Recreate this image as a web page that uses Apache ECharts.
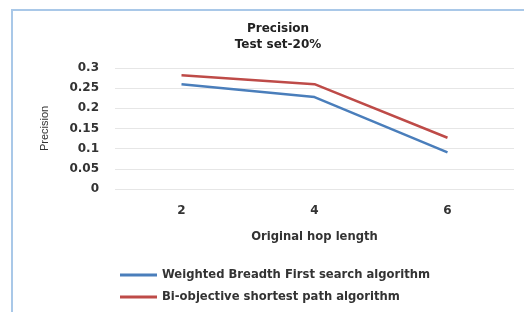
<!DOCTYPE html>
<html>
<head>
<meta charset="UTF-8">
<script src="https://cdn.jsdelivr.net/npm/echarts@6/dist/echarts.min.js"></script>
<style>body{margin:0;background:#fff}</style>
</head>
<body>
<div id="main" style="width:524px;height:312px"></div>
<script>
var hopLengths = ['2', '4', '6'];
var weightedBfs = [0.26, 0.228, 0.091];
var biObjective = [0.282, 0.26, 0.127];
var seriesNames = ['Weighted Breadth First search algorithm', 'Bi-objective shortest path algorithm'];

var chart = echarts.init(document.getElementById('main'));
var font = '"DejaVu Sans", sans-serif';

chart.setOption({
    backgroundColor: '#fff',
    animation: false,
    textStyle: { fontFamily: font },
    graphic: [{
        type: 'rect',
        shape: { x: 12, y: 10, width: 530, height: 320 },
        style: { fill: 'none', stroke: '#a9c8e8', lineWidth: 2 }
    }],
    title: {
        text: 'Precision\nTest set-20%',
        left: 273, top: 16, textAlign: 'center',
        textStyle: { fontSize: 12, fontWeight: 'bold', color: '#222', lineHeight: 16, fontFamily: font }
    },
    grid: { left: 115, right: 10, top: 68, height: 121 },
    legend: {
        orient: 'vertical', left: 115, top: 264, itemGap: 10,
        itemWidth: 37, itemHeight: 3,
        icon: 'rect',
        textStyle: { fontSize: 11.6, fontWeight: 'bold', color: '#333', fontFamily: font },
        data: seriesNames
    },
    xAxis: {
        type: 'category', data: hopLengths,
        name: 'Original hop length', nameLocation: 'middle', nameGap: 42,
        nameTextStyle: { fontSize: 11.6, fontWeight: 'bold', color: '#333' },
        axisLine: { show: false }, axisTick: { show: false },
        axisLabel: { margin: 16, fontSize: 12, fontWeight: 'bold', color: '#333' }
    },
    yAxis: {
        type: 'value', min: 0, max: 0.3, interval: 0.05,
        name: 'Precision', nameLocation: 'middle', nameGap: 65, nameRotate: 90,
        nameTextStyle: { fontSize: 11, color: '#333', fontFamily: '"Liberation Sans Narrow", "Liberation Sans", sans-serif' },
        axisLabel: { margin: 16, fontSize: 12, fontWeight: 'bold', color: '#333',
            formatter: function (v) { return String(+v.toFixed(2)); } },
        splitLine: { lineStyle: { color: '#e6e6e6' } }
    },
    series: [{
        name: seriesNames[0], type: 'line', data: weightedBfs,
        symbol: 'none', lineStyle: { width: 2.5, color: '#4a7ebb' }, itemStyle: { color: '#4a7ebb' }
    }, {
        name: seriesNames[1], type: 'line', data: biObjective,
        symbol: 'none', lineStyle: { width: 2.5, color: '#be4b48' }, itemStyle: { color: '#be4b48' }
    }]
});
</script>
</body>
</html>
